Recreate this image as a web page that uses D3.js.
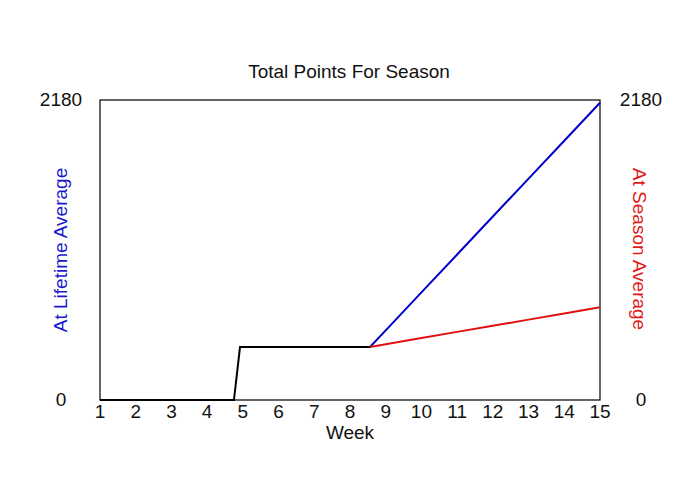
<!DOCTYPE html>
<html>
<head>
<meta charset="utf-8">
<script src="https://cdn.jsdelivr.net/npm/d3@7"></script>
<style>
  body { margin: 0; background: #fff; }
  text { font-family: "Liberation Sans", Arial, sans-serif; }
</style>
</head>
<body>
<div id="chart"></div>
<script>
// weeks on x, total points on y
var weekTicks = [1,2,3,4,5,6,7,8,9,10,11,12,13,14,15];
var yMax = 2180;

// shared part before the split (black)
var baseWeeks  = [1, 4.75, 4.92, 8.56];
var baseValues = [0, 0, 385, 385];

// projection at lifetime average (blue)
var lifeWeeks  = [8.56, 9, 10, 11, 12, 13, 14, 15];
var lifeValues = [385, 506, 782, 1057, 1333, 1609, 1884, 2160];

// projection at season average (red)
var seasonWeeks  = [8.56, 9, 10, 11, 12, 13, 14, 15];
var seasonValues = [385, 405, 450, 495, 539, 584, 629, 674];

var width = 700, height = 500;
var plotL = 100, plotR = 600, plotT = 100, plotB = 400;

var svg = d3.select('#chart').append('svg')
    .attr('width', width)
    .attr('height', height);

var x = d3.scaleLinear().domain([1, 15]).range([plotL, plotR]);
var y = d3.scaleLinear().domain([0, yMax]).range([plotB, plotT]);

function pts(ws, vs) {
    return ws.map(function(w, i) { return [w, vs[i]]; });
}

var line = d3.line()
    .x(function(d) { return x(d[0]); })
    .y(function(d) { return y(d[1]); });

// frame
svg.append('rect')
    .attr('x', plotL).attr('y', plotT)
    .attr('width', plotR - plotL).attr('height', plotB - plotT)
    .style('fill', 'none')
    .style('stroke', '#000')
    .style('stroke-width', 1.2);

svg.append('path')
    .datum(pts(lifeWeeks, lifeValues))
    .attr('d', line)
    .style('fill', 'none')
    .style('stroke', '#0000cc')
    .style('stroke-width', 2);

svg.append('path')
    .datum(pts(seasonWeeks, seasonValues))
    .attr('d', line)
    .style('fill', 'none')
    .style('stroke', '#e01010')
    .style('stroke-width', 2);

svg.append('path')
    .datum(pts(baseWeeks, baseValues))
    .attr('d', line)
    .style('fill', 'none')
    .style('stroke', '#000')
    .style('stroke-width', 2);

// x tick labels
svg.selectAll('.xtick').data(weekTicks).enter().append('text')
    .attr('class', 'xtick')
    .attr('x', function(d) { return x(d); })
    .attr('y', plotB + 18)
    .attr('text-anchor', 'middle')
    .style('font-size', '19px')
    .style('fill', '#111')
    .text(function(d) { return d; });

// y labels on both sides
[0, yMax].forEach(function(v) {
    svg.append('text')
        .attr('x', 61).attr('y', y(v) + 6)
        .attr('text-anchor', 'middle')
        .style('font-size', '19px').style('fill', '#111')
        .text(v);
    svg.append('text')
        .attr('x', 641).attr('y', y(v) + 6)
        .attr('text-anchor', 'middle')
        .style('font-size', '19px').style('fill', '#111')
        .text(v);
});

svg.append('text')
    .attr('x', 349).attr('y', 78)
    .attr('text-anchor', 'middle')
    .style('font-size', '19px').style('fill', '#111')
    .text('Total Points For Season');

svg.append('text')
    .attr('x', 350).attr('y', 439)
    .attr('text-anchor', 'middle')
    .style('font-size', '19px').style('fill', '#111')
    .text('Week');

svg.append('text')
    .attr('transform', 'translate(67,250) rotate(-90)')
    .attr('text-anchor', 'middle')
    .style('font-size', '19px').style('fill', '#1a1acc')
    .text('At Lifetime Average');

svg.append('text')
    .attr('transform', 'translate(633,249) rotate(90)')
    .attr('text-anchor', 'middle')
    .style('font-size', '19px').style('fill', '#e01a1a')
    .text('At Season Average');
</script>
</body>
</html>
